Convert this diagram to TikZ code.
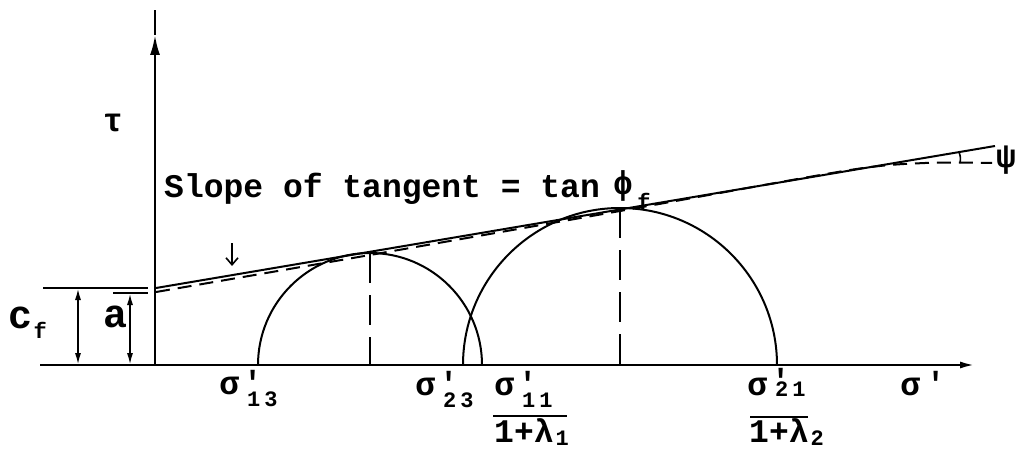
\documentclass[tikz,border=0pt]{standalone}
\usepackage{fontspec}
\newfontfamily\lmono{Liberation Mono}
\usetikzlibrary{arrows.meta}
\newcommand\SubFnt{\fontsize{22}{22}\selectfont}
\newcommand\PrmFnt{\fontsize{32}{32}\selectfont}
% sigma with prime and two-digit subscript: #1 #2 digits, #3 prime raise, #4 subscript raise
\newcommand\SigLab[4]{σ\hspace{8pt}\rlap{\hspace{-4pt}\raisebox{#3}{\PrmFnt '}}\raisebox{#4}{\SubFnt #1\hspace{4pt}#2}}
\tikzset{
  lab/.style={inner sep=0pt, font=\lmono\bfseries\fontsize{33}{33}\selectfont},
  big/.style={inner sep=0pt, font=\lmono\bfseries\fontsize{40}{40}\selectfont},
  sub/.style={inner sep=0pt, font=\lmono\bfseries\fontsize{22}{22}\selectfont},
  axis/.style={line width=2.4pt},
  thick line/.style={line width=2pt},
  dash line/.style={line width=2pt, dash pattern=on 14pt off 8pt},
  dim arrow/.style={line width=1.8pt, {Latex[length=12pt,width=6pt]}-{Latex[length=12pt,width=6pt]}},
}
\begin{document}
\begin{tikzpicture}[x=1pt,y=-1pt]
\useasboundingbox (0,0) rectangle (1016,449);
% axes
\coordinate (O) at (155,365);
\coordinate (ytop) at (155,35);
\coordinate (yend) at (155,10);
\coordinate (xend) at (975,365);
\coordinate (bl) at (40,365);
\draw[axis,-{Latex[length=20pt,width=10pt]}] (O) -- (ytop);
\draw[line width=1.4pt] (ytop) -- (yend);
\draw[axis,-{Latex[length=15pt,width=7pt]}] (O) -- (xend);
\draw[axis] (bl) -- (O);
% c_f and a dimension lines
\coordinate (cfl) at (43,288); \coordinate (cfr) at (148,288);
\coordinate (al) at (113,293); \coordinate (ar) at (148,293);
\draw[thick line] (cfl) -- (cfr);
\draw[thick line] (al) -- (ar);
\coordinate (cft) at (78,288); \coordinate (cfb) at (78,365);
\coordinate (at) at (130,293); \coordinate (ab) at (130,365);
\draw[dim arrow] (cft) -- (cfb);
\draw[dim arrow] (at) -- (ab);
\node[big, anchor=base west] (c) at (8,328) {c\hspace{1.4pt}\raisebox{-10pt}{\SubFnt f}};
\node[big] (a) at (116,317) {a};
\node[lab] (tau) at (113,123) {τ};
% semicircles
\coordinate (c1) at (370,365); \coordinate (c2) at (620,365);
\coordinate (t1) at (370,253); \coordinate (t2) at (620,208);
\draw[thick line] (482,365) arc[start angle=0, end angle=180, radius=112pt];
\draw[thick line] (777,365) arc[start angle=0, end angle=180, radius=157pt];
\draw[line width=2pt, dash pattern=on 30pt off 12pt] (t1) -- (c1);
\draw[line width=2pt, dash pattern=on 30pt off 12pt] (t2) -- (c2);
% tangent and envelope
\coordinate (s0) at (156,288); \coordinate (s1) at (995,146);
\draw[thick line] (s0) -- (s1);
\draw[dash line] plot[smooth, tension=0.45] coordinates {(156,292) (370,255) (620,211) (850,170) (925,163) (992,163)};
% angle psi
\coordinate (p0) at (960,163); \coordinate (p1) at (959,152);
\draw[line width=1.6pt] (p0) to[bend right=15] (p1);
\node[lab] (psi) at (1006,160) {ψ};
% small arrow
\coordinate (m0) at (232,243); \coordinate (m1) at (232,266);
\draw[line width=1.8pt, -{Straight Barb[length=7pt,width=12pt,line width=1.6pt]}] (m0) -- (m1);
% slope label
\node[lab, anchor=base west] (slope) at (164,197) {Slope of tangent = tan};
\node[lab] (phi) at (623,186) {ϕ};
\node[sub] (phif) at (644,201) {f};
% sigma labels
\node[lab, anchor=base west] (s13) at (219.1,394) {\SigLab{1}{3}{1pt}{-12pt}};
\node[lab, anchor=base west] (s23) at (415.1,395) {\SigLab{2}{3}{1pt}{-12pt}};
\node[lab, anchor=base west] (s11) at (494.1,395) {\SigLab{1}{1}{1pt}{-12pt}};
\coordinate (b1l) at (493,416); \coordinate (b1r) at (567,416);
\draw[line width=1.8pt] (b1l) -- (b1r);
\node[lab, anchor=base west] (d1) at (494,442) {1+λ\hspace{2pt}\raisebox{-3pt}{\SubFnt 1}};
\node[lab, anchor=base west] (s21) at (747.1,395) {\SigLab{2}{1}{4pt}{-1pt}};
\coordinate (b2l) at (750,417); \coordinate (b2r) at (808,417);
\draw[line width=1.8pt] (b2l) -- (b2r);
\node[lab, anchor=base west] (d2) at (749,442) {1+λ\hspace{2pt}\raisebox{-3pt}{\SubFnt 2}};
\node[lab, anchor=base west] (sig) at (900.1,395) {σ\hspace{6pt}\raisebox{1pt}{\PrmFnt '}};
\end{tikzpicture}
\end{document}
